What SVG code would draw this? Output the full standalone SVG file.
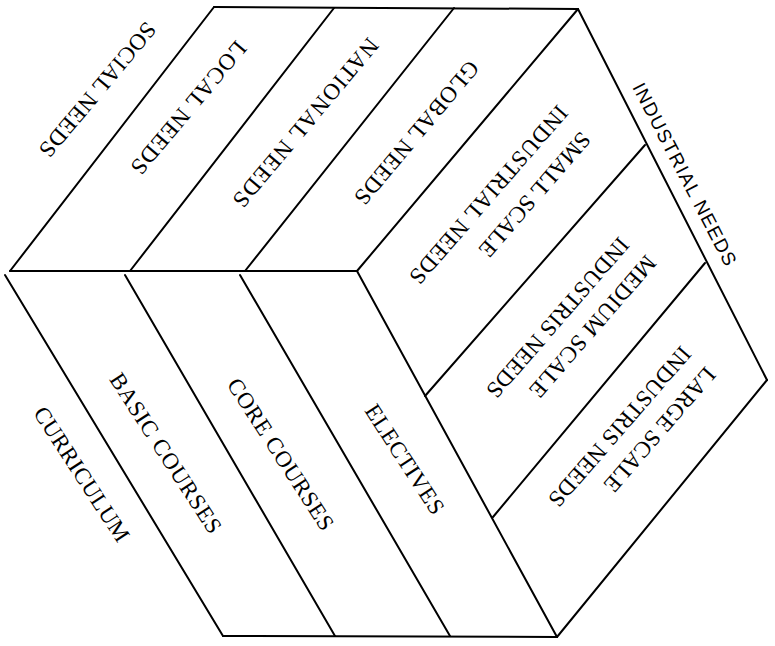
<svg xmlns="http://www.w3.org/2000/svg" width="775" height="646" viewBox="0 0 775 646">
<style>
.ln{stroke:#000;stroke-width:2;fill:none;stroke-linecap:round}
.t{font-family:"Liberation Serif","DejaVu Serif",serif;font-size:23px;fill:#000;text-anchor:middle}
.s{font-family:"Liberation Sans","DejaVu Sans",sans-serif;font-size:19px;fill:#000;text-anchor:middle}
</style>
<rect width="775" height="646" fill="#fff"/>
<g id="connectors">
  <g id="top-face">
    <line class="ln" x1="214" y1="7" x2="578" y2="9"/>
    <line class="ln" x1="10" y1="271" x2="214" y2="7"/>
    <line class="ln" x1="10" y1="271" x2="357" y2="271" stroke-width="2.5"/>
    <line class="ln" x1="130" y1="271" x2="334" y2="8"/>
    <line class="ln" x1="245" y1="271" x2="454" y2="8"/>
    <line class="ln" x1="357" y1="271" x2="578" y2="9"/>
  </g>
  <g id="right-face">
    <line class="ln" x1="578" y1="9" x2="767" y2="380"/>
    <line class="ln" x1="767" y1="380" x2="557" y2="637"/>
    <line class="ln" x1="357" y1="271" x2="557" y2="637"/>
    <line class="ln" x1="425" y1="396" x2="645" y2="145"/>
    <line class="ln" x1="493" y1="517" x2="705" y2="263"/>
  </g>
  <g id="front-face">
    <line class="ln" x1="5" y1="275" x2="223" y2="636"/>
    <line class="ln" x1="125" y1="275" x2="335" y2="636"/>
    <line class="ln" x1="240" y1="275" x2="450" y2="636"/>
    <line class="ln" x1="223" y1="636" x2="557" y2="637"/>
  </g>
</g>
<g id="social-needs"><text class="t" transform="translate(98,90) rotate(130)" dy="8" textLength="168">SOCIAL NEEDS</text></g>
<g id="local-needs"><text class="t" transform="translate(189,108) rotate(130)" dy="8" textLength="166">LOCAL NEEDS</text></g>
<g id="national-needs"><text class="t" transform="translate(306,123) rotate(130)" dy="8" textLength="213">NATIONAL NEEDS</text></g>
<g id="global-needs"><text class="t" transform="translate(417,133) rotate(130)" dy="8" textLength="180">GLOBAL NEEDS</text></g>
<g id="small-scale">
  <text class="t" transform="translate(535,195) rotate(131)" dy="8" textLength="157">SMALL SCALE</text>
  <text class="t" transform="translate(489,195) rotate(131)" dy="8" textLength="228">INDUSTRIAL NEEDS</text>
</g>
<g id="medium-scale">
  <text class="t" transform="translate(593,327) rotate(131)" dy="8" textLength="180">MEDIUM SCALE</text>
  <text class="t" transform="translate(558,318) rotate(131)" dy="8" textLength="204">INDUSTRIS NEEDS</text>
</g>
<g id="large-scale">
  <text class="t" transform="translate(660,430) rotate(131)" dy="8" textLength="157">LARGE SCALE</text>
  <text class="t" transform="translate(620,427) rotate(131)" dy="8" textLength="204">INDUSTRIS NEEDS</text>
</g>
<g id="curriculum"><text class="t" transform="translate(82,474) rotate(57)" dy="8" textLength="156">CURRICULUM</text></g>
<g id="basic-courses"><text class="t" transform="translate(166,453) rotate(57)" dy="8" textLength="186">BASIC COURSES</text></g>
<g id="core-courses"><text class="t" transform="translate(281,454) rotate(57)" dy="8" textLength="176">CORE COURSES</text></g>
<g id="electives"><text class="t" transform="translate(405,459) rotate(57)" dy="8" textLength="126">ELECTIVES</text></g>
<g id="industrial-needs"><text class="s" transform="translate(685,174) rotate(62.5)" dy="7" textLength="203">INDUSTRIAL NEEDS</text></g>
</svg>
